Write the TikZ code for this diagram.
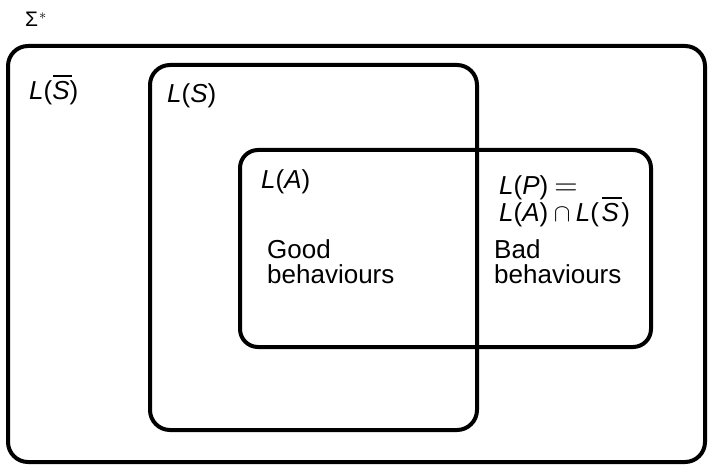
\documentclass[tikz,border=0pt]{standalone}
\usepackage{fontspec}
\setmainfont{Liberation Sans}
\newcommand{\lang}[1]{\textit{L}(#1)}
\newcommand{\ital}[1]{\textit{#1}}
% complement: italic letter with a bar drawn above it
\newcommand{\cmpl}[1]{\rlap{\kern0.5pt\rule[22.5pt]{19.5pt}{2.8pt}}\textit{#1}}
\begin{document}
\begin{tikzpicture}[x=1pt,y=-1pt,
  setbox/.style={draw, line width=4pt, rounded corners=20pt, inner sep=0pt, outer sep=0pt},
  lbl/.style={anchor=base west, inner sep=0pt, font=\fontsize{26}{26}\selectfont}]
  \useasboundingbox (0,0) rectangle (709,465);

  % the three sets
  \node[setbox, minimum width=697pt, minimum height=416pt] (all) at (356.5,254) {};
  \node[setbox, minimum width=327pt, minimum height=365pt] (spec) at (313.5,247.5) {};
  \node[setbox, minimum width=411pt, minimum height=197pt, rounded corners=18pt] (aut) at (445.5,248.5) {};

  % labels
  \node[lbl, font=\fontsize{21}{21}\selectfont] (sigma) at (25,27) {Σ\kern1pt$^*$};
  \node[lbl] (lsbar) at (29,100) {\textit{L}(\cmpl{S})};
  \node[lbl] (ls) at (167,103) {\lang{\ital{S}}};
  \node[lbl] (la) at (261,189) {\lang{\ital{A}}};
  \node[lbl] (lp1) at (499,195) {\lang{\ital{P}}\kern6pt\raisebox{-0.5pt}{\scalebox{1.3}{$=$}}};
  \node[lbl] (lp2) at (499,222) {\lang{\ital{A}}${}\cap{}$\textit{L}(\kern2.5pt\cmpl{S}\kern2.5pt)};
  \node[lbl] (good1) at (267,258) {Good};
  \node[lbl] (good2) at (267,283) {behaviours};
  \node[lbl] (bad1) at (494,258) {Bad};
  \node[lbl] (bad2) at (494,283) {behaviours};
\end{tikzpicture}
\end{document}
